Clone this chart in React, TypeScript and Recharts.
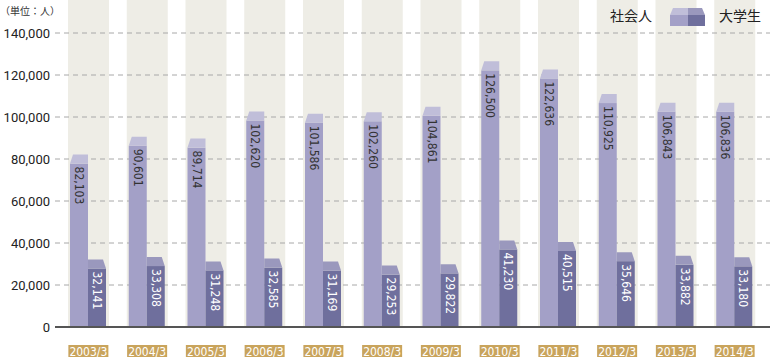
import { BarChart, Bar, XAxis, YAxis, CartesianGrid } from 'recharts';

const years = ['2003/3', '2004/3', '2005/3', '2006/3', '2007/3', '2008/3', '2009/3', '2010/3', '2011/3', '2012/3', '2013/3', '2014/3'];
const workers = [82103, 90601, 89714, 102620, 101586, 102260, 104861, 126500, 122636, 110925, 106843, 106836];
const students = [32141, 33308, 31248, 32585, 31169, 29253, 29822, 41230, 40515, 35646, 33882, 33180];
const yTicks = [0, 20000, 40000, 60000, 80000, 100000, 120000, 140000];

const data = years.map((year, i) => ({
  year,
  workers: workers[i],
  students: students[i],
  band: 1,
}));

const W = 775;
const H = 359;
const CAP = 9;
const numFont = '"DejaVu Sans Condensed", "Liberation Sans Narrow", "Roboto", sans-serif';

const fmt = (v: number) => v.toLocaleString('en-US');

// 3D-ish column: a cap on top, value written downwards inside the face
function makeShape(face: string, cap: string, textColor: string, slantLeft: boolean) {
  return (props: any) => {
    const { x, y, width, height, value } = props;
    const v = Array.isArray(value) ? value[1] - value[0] : value;
    const capPts = slantLeft
      ? `${x + 3},${y} ${x + width},${y} ${x + width},${y + CAP} ${x},${y + CAP}`
      : `${x},${y} ${x + width - 3},${y} ${x + width},${y + CAP} ${x},${y + CAP}`;
    const tx = x + width / 2;
    const ty = y + CAP + 3;
    return (
      <g>
        <rect x={x} y={y + CAP} width={width} height={Math.max(0, height - CAP)} fill={face} />
        <polygon points={capPts} fill={cap} />
        <text
          x={tx}
          y={ty}
          transform={`rotate(90 ${tx} ${ty})`}
          fill={textColor}
          fontSize={12}
          fontFamily={numFont}
          dominantBaseline="central"
          textAnchor="start"
        >
          {fmt(v)}
        </text>
      </g>
    );
  };
}

const YearTick = (props: any) => {
  const { x, payload } = props;
  return (
    <g>
      <rect x={x - 20} y={345} width={40} height={12} fill="#c9a45c" />
      <text x={x} y={351.5} textAnchor="middle" dominantBaseline="central" fill="#fff" fontSize={12} fontFamily={numFont}>
        {payload.value}
      </text>
    </g>
  );
};

const NumTick = (props: any) => {
  const { y, payload } = props;
  return (
    <text x={50} y={y} textAnchor="end" dominantBaseline="central" fill="#222" fontSize={13} fontFamily='"Roboto", "Liberation Sans", sans-serif'>
      {fmt(payload.value)}
    </text>
  );
};

function LegendIcon() {
  return (
    <svg width={36} height={18} style={{ display: 'block' }}>
      <polygon points="3,0 18,0 18,7 0,7" fill="#c0bed9" />
      <polygon points="18,0 32,0 35,7 18,7" fill="#9a98bd" />
      <rect x={0} y={7} width={18} height={11} fill="#a3a0c7" />
      <rect x={18} y={7} width={17} height={11} fill="#6f6f9d" />
    </svg>
  );
}

export default function App() {
  return (
    <div style={{ position: 'absolute', left: 0, top: 0, width: W, height: H, background: '#fff', fontFamily: '"Noto Sans CJK JP", sans-serif' }}>
      {/* background bands behind the grid */}
      <div style={{ position: 'absolute', left: 0, top: 0 }}>
        <BarChart width={W} height={H} data={data} margin={{ top: 0, right: 5, left: 55, bottom: 32 }} barSize={41}>
          <XAxis dataKey="year" hide padding={{ left: 4, right: 6 }} />
          <YAxis hide domain={[0, 1]} />
          <Bar dataKey="band" fill="#eeede6" isAnimationActive={false} />
        </BarChart>
      </div>

      <div style={{ position: 'absolute', left: 0, top: 0 }}>
        <BarChart width={W} height={H} data={data} margin={{ top: 33, right: 5, left: 0, bottom: 2 }} barSize={18} barGap={0}>
          <CartesianGrid vertical={false} stroke="#a8a8a8" strokeDasharray="5 4" />
          <XAxis
            dataKey="year"
            padding={{ left: 4, right: 6 }}
            height={30}
            tickLine={false}
            axisLine={{ stroke: '#555', strokeWidth: 2 }}
            tick={<YearTick />}
            interval={0}
          />
          <YAxis
            width={55}
            domain={[0, 140000]}
            ticks={yTicks}
            axisLine={false}
            tickLine={false}
            tick={<NumTick />}
          />
          <Bar dataKey="workers" isAnimationActive={false} shape={makeShape('#a3a0c7', '#c0bed9', '#333', true)} />
          <Bar dataKey="students" isAnimationActive={false} shape={makeShape('#6f6f9d', '#9a98bd', '#fff', false)} />
        </BarChart>
      </div>

      <div style={{ position: 'absolute', left: 0, top: 3, fontSize: 10, color: '#333' }}>（単位：人）</div>
      <div style={{ position: 'absolute', left: 610, top: 6, fontSize: 14, color: '#222', lineHeight: '18px' }}>社会人</div>
      <div style={{ position: 'absolute', left: 670, top: 8 }}>
        <LegendIcon />
      </div>
      <div style={{ position: 'absolute', left: 719, top: 6, fontSize: 14, color: '#222', lineHeight: '18px' }}>大学生</div>
    </div>
  );
}
